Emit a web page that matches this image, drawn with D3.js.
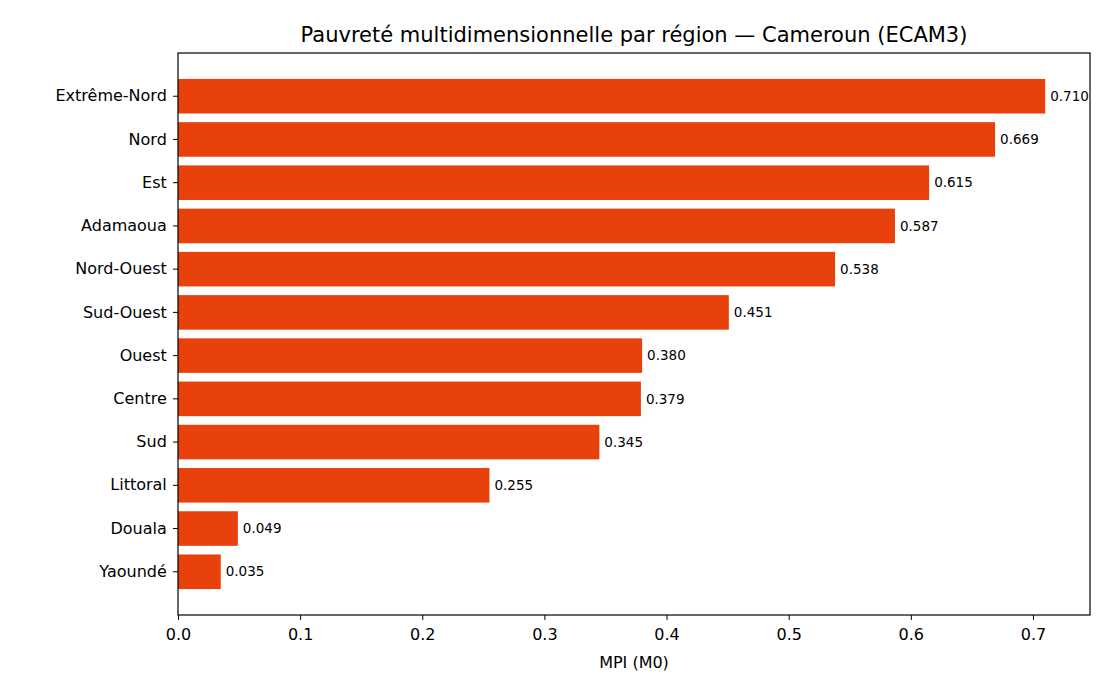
<!DOCTYPE html>
<html><head><meta charset="utf-8">
<script src="https://cdn.jsdelivr.net/npm/d3@7"></script>
<style>body{margin:0;background:#fff}svg{font-family:"DejaVu Sans",sans-serif}</style>
</head><body>
<svg id="c" width="1120" height="700"></svg>
<script>
const regions = ["Extrême-Nord","Nord","Est","Adamaoua","Nord-Ouest","Sud-Ouest","Ouest","Centre","Sud","Littoral","Douala","Yaoundé"];
const mpi = [0.710,0.669,0.615,0.587,0.538,0.451,0.380,0.379,0.345,0.255,0.049,0.035];
const xTicks = [0,0.1,0.2,0.3,0.4,0.5,0.6,0.7];

const svg = d3.select("#c");
const L=178,R=1090,T=53,B=615;
const x = d3.scaleLinear().domain([0,0.7467]).range([L,R]);
const y = d3.scaleBand().domain(regions).range([T,B]).paddingInner(0.2).paddingOuter(0.6);

svg.selectAll("rect.bar").data(regions).enter().append("rect")
  .attr("x",x(0)).attr("y",d=>y(d)).attr("height",y.bandwidth())
  .attr("width",(d,i)=>x(mpi[i])-x(0)).attr("fill","#e8410c");

svg.selectAll("text.val").data(regions).enter().append("text")
  .attr("x",(d,i)=>x(mpi[i])+5).attr("y",d=>y(d)+y.bandwidth()/2)
  .attr("dy","0.35em").attr("font-size",13.5).text((d,i)=>mpi[i].toFixed(3));

svg.append("rect").attr("x",L).attr("y",T).attr("width",R-L).attr("height",B-T)
  .attr("fill","none").attr("stroke","#000").attr("stroke-width",1.2);

const xa = svg.append("g").attr("transform",`translate(0,${B})`)
  .call(d3.axisBottom(x).tickValues(xTicks).tickFormat(d3.format(".1f")).tickSize(5).tickSizeOuter(0));
xa.select(".domain").remove();
xa.selectAll("text").attr("font-size",16).attr("font-family","DejaVu Sans").attr("dy","1.05em");
const ya = svg.append("g").attr("transform",`translate(${L},0)`)
  .call(d3.axisLeft(y).tickSize(5).tickSizeOuter(0));
ya.select(".domain").remove();
ya.selectAll("text").attr("font-size",16).attr("font-family","DejaVu Sans").attr("dx","-0.2em");

svg.append("text").attr("x",(L+R)/2).attr("y",668).attr("text-anchor","middle")
  .attr("font-size",16).text("MPI (M0)");
svg.append("text").attr("x",(L+R)/2).attr("y",42).attr("text-anchor","middle")
  .attr("font-size",21).text("Pauvreté multidimensionnelle par région — Cameroun (ECAM3)");
</script>
</body></html>
